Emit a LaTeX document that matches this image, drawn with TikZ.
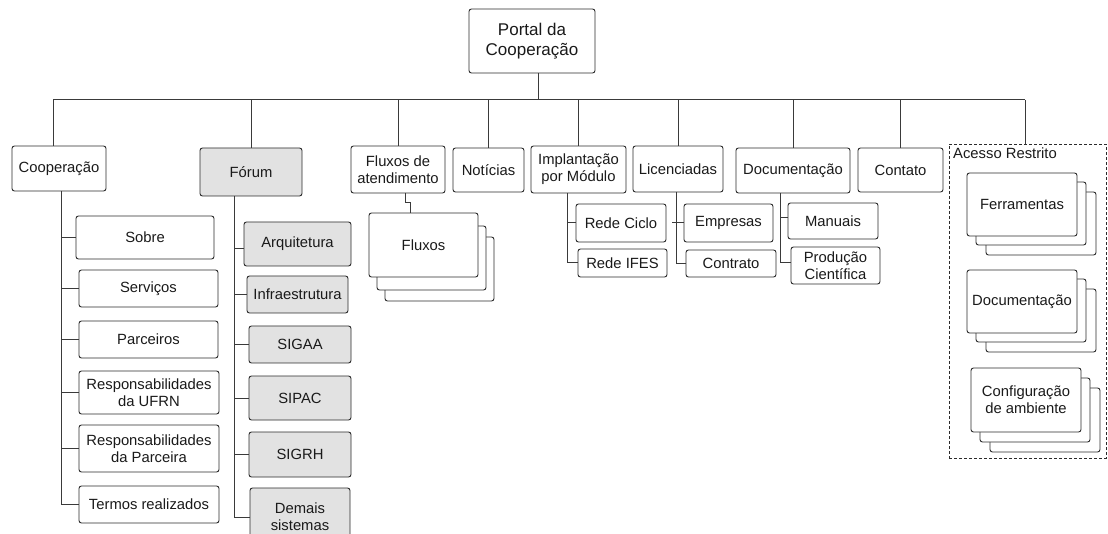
\documentclass[tikz,border=0pt]{standalone}
\usepackage{fontspec}
\setmainfont{Liberation Sans}
\definecolor{boxline}{HTML}{2B2B2B}
\definecolor{linkc}{HTML}{3A3A3A}
\definecolor{gfill}{HTML}{E2E2E2}
\definecolor{txt}{HTML}{1A1A1A}
% box from its corners: [style]{name}{x1}{y1}{x2}{y2}{text}
\newcommand\bx[7][box]{\node[#1, minimum width={(#5-#3)*1pt}, minimum height={(#6-#4)*1pt}] (#2) at ({(#3+#5)/2},{(#4+#6)/2}) {#7};}
\begin{document}
\begin{tikzpicture}[x=1pt,y=-1pt,
  box/.style={draw=boxline, line width=0.9pt, rounded corners=2.5pt, fill=white,
    inner sep=0pt, outer sep=0pt, align=center, text=txt,
    font=\fontsize{14.8}{17.2}\selectfont},
  gbox/.style={box, fill=gfill},
  area/.style={draw=boxline, line width=0.9pt, dashed, dash pattern=on 3pt off 2pt,
    inner sep=0pt, outer sep=0pt},
  link/.style={draw=linkc, line width=1pt},
]
\useasboundingbox[fill=white] (0,0) rectangle (1108,534);

% root
\bx[box, font=\fontsize{17}{20}\selectfont]{portal}{469}{9}{595}{73}{Portal da\\Cooperação}

% first level
\bx{coop}{12}{146}{106}{191}{Cooperação}
\bx[gbox]{forum}{200}{148}{302}{196}{Fórum}
\bx{fat}{351}{146}{445}{193}{Fluxos de\\atendimento}
\bx{noti}{453}{148}{524}{192}{Notícias}
\bx{impl}{531}{146}{626}{193}{Implantação\\por Módulo}
\bx{lic}{633}{146}{723}{192}{Licenciadas}
\bx{doc}{736}{148}{850}{193}{Documentação}
\bx{cont}{858}{148}{943}{192}{Contato}
\bx[area]{acesso}{949}{144}{1106}{458}{}
\node[anchor=base west, inner sep=0pt, text=txt, font=\fontsize{14.8}{17.2}\selectfont]
  (acessolbl) at (953,159) {Acesso Restrito};

% bus
\coordinate (busL) at (53,100);
\coordinate (busR) at (1025,100);
\coordinate (pj) at (538,100);
\draw[link] (busL) -- (busR);
\draw[link] (portal.south -| pj) -- (pj);
\draw[link] (busL) -- (busL |- coop.north);
\draw[link] (busR) -- (busR |- acesso.north);
\foreach \n in {forum,fat,noti,impl,lic,doc,cont}
  \draw[link] (\n.north |- busL) -- (\n.north);

% Cooperação branch
\bx{sobre}{76}{216}{214}{259}{Sobre}
\bx{serv}{79}{270}{218}{307}{Serviços}
\bx{parc}{79}{321}{218}{358}{Parceiros}
\bx{ufrn}{79}{371}{219}{414}{Responsabilidades\\da UFRN}
\bx{rpar}{79}{425}{219}{472}{Responsabilidades\\da Parceira}
\bx{termos}{79}{486}{219}{523}{Termos realizados}
\coordinate (ctr) at (61,0);
\draw[link] (coop.south -| ctr) |- (termos.west);
\foreach \n in {sobre,serv,parc,ufrn,rpar}
  \draw[link] (ctr |- \n.west) -- (\n.west);

% Fórum branch
\bx[gbox]{arq}{244}{222}{351}{266}{Arquitetura}
\bx[gbox]{infra}{247}{276}{348}{313}{Infraestrutura}
\bx[gbox]{sigaa}{249}{326}{351}{363}{SIGAA}
\bx[gbox]{sipac}{249}{376}{351}{420}{SIPAC}
\bx[gbox]{sigrh}{249}{432}{351}{477}{SIGRH}
\bx[gbox]{demais}{250}{488}{350}{546}{Demais\\sistemas}
\coordinate (ftr) at (234,0);
\coordinate (arqin) at ([yshift=-5pt]arq.west);
\draw[link] (forum.south -| ftr) |- (demais.west);
\draw[link] (ftr |- arqin) -- (arqin);
\foreach \n in {infra,sigaa,sipac,sigrh}
  \draw[link] (ftr |- \n.west) -- (\n.west);

% Fluxos stack
\bx{flxC}{385}{237}{494}{301}{}
\bx{flxB}{377}{226}{486}{290}{}
\bx{flx}{369}{213}{478}{277}{Fluxos}
\coordinate (fj1) at (405,203);
\coordinate (fj2) at (410,203);
\draw[link] (fat.south -| fj1) -- (fj1) -- (fj2) -- (flx.north -| fj2);

% Implantação branch
\bx{rciclo}{576}{204}{666}{242}{Rede Ciclo}
\bx{rifes}{578}{249}{667}{277}{Rede IFES}
\coordinate (itr) at (567.5,0);
\draw[link] (impl.south -| itr) |- (rifes.west);
\draw[link] (itr |- rciclo.west) -- (rciclo.west);

% Licenciadas branch
\bx{emp}{684}{204}{773}{242}{Empresas}
\bx{contr}{686}{250}{776}{277}{Contrato}
\coordinate (ltr) at (676,0);
\coordinate (ltrstub) at (672,0);
\draw[link] (lic.south -| ltr) |- (contr.west);
\draw[link] (ltrstub |- emp.west) -- (emp.west);

% Documentação branch
\bx{manu}{788}{203}{878}{239}{Manuais}
\bx{prod}{791}{247}{880}{284}{Produção\\Científica}
\coordinate (dtr) at (780,0);
\coordinate (manin) at ([yshift=3pt]manu.west);
\coordinate (prodin) at ([yshift=3pt]prod.west);
\draw[link] (doc.south -| dtr) |- (prodin);
\draw[link] (dtr |- manin) -- (manin);

% restricted area stacks
\bx{ferC}{986}{192}{1096}{255}{}
\bx{ferB}{976}{182}{1086}{245}{}
\bx{fer}{967}{173}{1077}{236}{Ferramentas}
\bx{rdocC}{986}{289}{1096}{352}{}
\bx{rdocB}{976}{279}{1086}{342}{}
\bx{rdoc}{967}{270}{1077}{333}{Documentação}
\bx{confC}{990}{388}{1100}{452}{}
\bx{confB}{980}{378}{1090}{442}{}
\bx{conf}{971}{368}{1081}{432}{Configuração\\de ambiente}
\end{tikzpicture}
\end{document}
